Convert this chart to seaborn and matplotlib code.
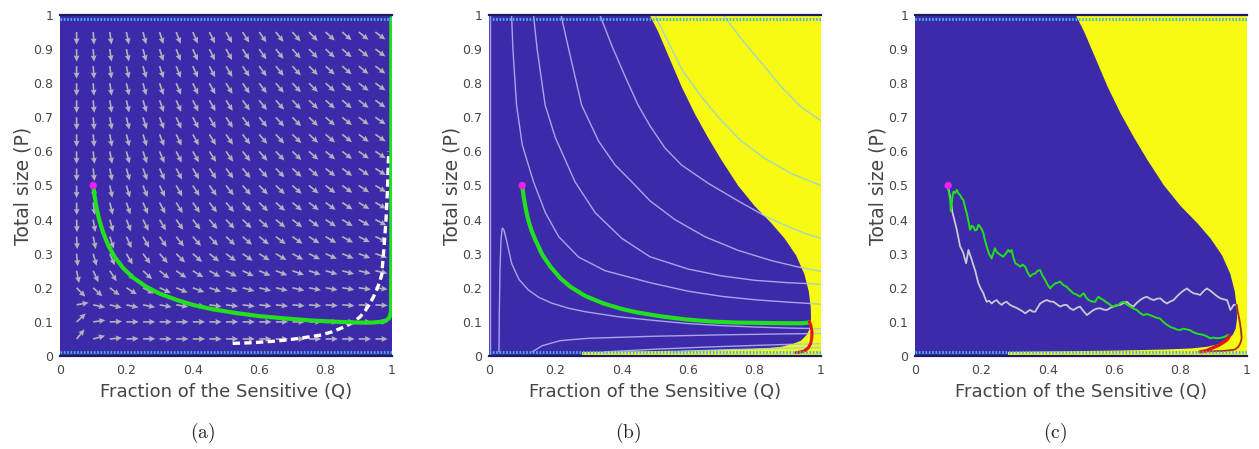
import numpy as np
import pandas as pd
import matplotlib
matplotlib.use("Agg")
import matplotlib.pyplot as plt
from matplotlib.patches import Polygon
import seaborn as sns

sns.set_theme(style="white")
plt.rcParams["font.family"] = ["DejaVu Sans"]
plt.rcParams["mathtext.fontset"] = "cm"

# ---------------------------------------------------------------- colours
BLUE = "#3d2aa8"
YELLOW = "#f8fa12"
GREEN = "#22e01e"
MAGENTA = "#f01ef0"
RED = "#e3160c"
BROWN = "#a8300f"
ARROW = "#b2b0bd"
LAVENDER = "#a7a4ee"
TEAL = "#a2d6c4"
DOTS = "#44b2f2"
NAVY = "#1d1a66"
TEXT = "#454545"

# ------------------------------------------- (a) direction field, degrees
Q_GRID = [0.05, 0.10, 0.15, 0.20, 0.25, 0.30, 0.35, 0.40, 0.45, 0.50,
          0.55, 0.60, 0.65, 0.70, 0.75, 0.80, 0.85, 0.90, 0.95]
P_GRID = [0.95, 0.90, 0.85, 0.80, 0.75, 0.70, 0.65, 0.60, 0.55, 0.50,
          0.45, 0.40, 0.35, 0.30, 0.25, 0.20, 0.15, 0.10, 0.05]
FIELD_ANGLE = [
    [-90, -86, -82, -78, -75, -72, -69, -66, -63, -60, -57, -54, -51, -48, -45, -42, -40, -38, -36],
    [-90, -86, -82, -78, -75, -72, -69, -66, -63, -60, -57, -54, -51, -48, -45, -42, -40, -38, -36],
    [-90, -86, -82, -78, -74, -71, -68, -65, -62, -59, -56, -53, -50, -47, -44, -42, -40, -38, -36],
    [-90, -86, -81, -77, -74, -71, -67, -64, -61, -58, -55, -52, -49, -46, -44, -41, -39, -37, -35],
    [-90, -85, -81, -77, -73, -70, -66, -63, -60, -57, -54, -51, -48, -46, -43, -41, -39, -37, -35],
    [-90, -85, -80, -76, -72, -69, -65, -62, -59, -56, -53, -50, -47, -45, -43, -40, -38, -36, -34],
    [-90, -85, -80, -76, -72, -68, -64, -61, -58, -55, -52, -49, -47, -44, -42, -40, -38, -36, -34],
    [-90, -84, -79, -75, -71, -67, -63, -60, -57, -54, -51, -48, -46, -43, -41, -39, -37, -35, -33],
    [-90, -84, -79, -74, -70, -66, -62, -59, -56, -53, -50, -47, -45, -42, -40, -38, -36, -34, -32],
    [-90, -83, -78, -73, -68, -64, -60, -57, -54, -51, -48, -45, -43, -41, -39, -37, -35, -33, -31],
    [-89, -82, -76, -71, -66, -62, -58, -55, -52, -49, -46, -44, -41, -39, -37, -35, -33, -31, -29],
    [-88, -80, -74, -68, -63, -59, -55, -52, -49, -46, -43, -41, -39, -37, -35, -33, -31, -29, -27],
    [-87, -78, -71, -65, -60, -55, -51, -48, -45, -42, -40, -38, -36, -34, -32, -30, -28, -26, -24],
    [-85, -74, -66, -59, -53, -48, -44, -41, -38, -36, -34, -32, -30, -28, -26, -24, -22, -20, -18],
    [-78, -65, -56, -48, -42, -38, -34, -31, -29, -27, -25, -23, -21, -19, -18, -16, -15, -13, -12],
    [-45, -42, -36, -31, -27, -24, -22, -20, -18, -16, -15, -14, -13, -12, -11, -10, -9, -8, -7],
    [10, -12, -13, -12, -11, -10, -9, -8, -8, -7, -7, -6, -6, -5, -5, -4, -4, -3, -3],
    [42, 8, 2, 0, 0, 0, 0, 0, 0, 0, 0, 0, 0, 0, 0, 0, 0, 0, 0],
    [50, 15, 5, 2, 1, 0, 0, 0, 0, 0, 0, 0, 0, 0, 0, 0, 0, 0, 0],
]

# ------------------------------------------------ (a) trajectories
A_TRAJ_Q = [0.100, 0.104, 0.110, 0.118, 0.130, 0.145, 0.165, 0.190, 0.220, 0.260,
            0.300, 0.350, 0.400, 0.460, 0.530, 0.600, 0.680, 0.760, 0.840, 0.900,
            0.940, 0.965, 0.982, 0.992, 0.997, 0.998, 0.998]
A_TRAJ_P = [0.500, 0.470, 0.435, 0.400, 0.362, 0.325, 0.290, 0.258, 0.230, 0.203,
            0.183, 0.165, 0.150, 0.137, 0.126, 0.117, 0.110, 0.104, 0.100, 0.098,
            0.098, 0.100, 0.104, 0.112, 0.130, 0.300, 0.990]
A_DASH_Q = [0.520, 0.580, 0.640, 0.683, 0.730, 0.783, 0.820, 0.858, 0.885, 0.904,
            0.920, 0.934, 0.945, 0.954, 0.962, 0.969, 0.976, 0.982, 0.986, 0.990]
A_DASH_P = [0.037, 0.039, 0.043, 0.047, 0.053, 0.061, 0.071, 0.086, 0.100, 0.115,
            0.134, 0.155, 0.175, 0.194, 0.215, 0.238, 0.320, 0.400, 0.480, 0.600]

START_Q, START_P = [0.10], [0.50]

# ------------------------------------------------ (b) trajectories
B_TRAJ_Q = [0.100, 0.104, 0.110, 0.118, 0.128, 0.140, 0.160, 0.185, 0.215, 0.245,
            0.290, 0.345, 0.400, 0.445, 0.520, 0.595, 0.670, 0.746, 0.820, 0.897,
            0.940, 0.965]
B_TRAJ_P = [0.500, 0.470, 0.435, 0.400, 0.368, 0.340, 0.298, 0.262, 0.228, 0.203,
            0.176, 0.154, 0.138, 0.128, 0.116, 0.107, 0.101, 0.098, 0.097, 0.096,
            0.096, 0.098]
B_RED_Q = [0.965, 0.970, 0.973, 0.972, 0.969, 0.962, 0.950, 0.935, 0.925]
B_RED_P = [0.100, 0.088, 0.070, 0.052, 0.037, 0.024, 0.015, 0.011, 0.010]

# level curves of panel (b)
LEVEL_CURVES = [
    ([0.706, 0.760, 0.820, 0.880, 0.940, 1.000],
     [1.000, 0.930, 0.860, 0.790, 0.730, 0.690]),
    ([0.500, 0.540, 0.585, 0.640, 0.700, 0.760, 0.830, 0.910, 1.000],
     [1.000, 0.920, 0.834, 0.760, 0.690, 0.630, 0.580, 0.535, 0.500]),
    ([0.334, 0.370, 0.410, 0.449, 0.485, 0.530, 0.580, 0.661, 0.750, 0.836, 0.900, 0.950, 1.000],
     [1.000, 0.910, 0.820, 0.736, 0.675, 0.610, 0.560, 0.506, 0.455, 0.408, 0.380, 0.360, 0.345]),
    ([0.217, 0.240, 0.279, 0.330, 0.380, 0.430, 0.485, 0.560, 0.650, 0.750, 0.850, 0.927, 1.000],
     [1.000, 0.900, 0.736, 0.630, 0.560, 0.511, 0.455, 0.400, 0.350, 0.310, 0.280, 0.262, 0.248]),
    ([0.134, 0.145, 0.169, 0.200, 0.259, 0.320, 0.400, 0.485, 0.600, 0.700, 0.800, 0.900, 0.967, 1.000],
     [1.000, 0.900, 0.736, 0.640, 0.511, 0.420, 0.345, 0.291, 0.255, 0.235, 0.222, 0.215, 0.212, 0.210]),
    ([0.068, 0.072, 0.083, 0.100, 0.134, 0.170, 0.210, 0.270, 0.350, 0.485, 0.600, 0.700, 0.800, 0.900, 1.000],
     [1.000, 0.900, 0.736, 0.620, 0.511, 0.420, 0.350, 0.290, 0.250, 0.215, 0.190, 0.175, 0.165, 0.158, 0.152]),
    ([0.030, 0.031, 0.033, 0.036, 0.040, 0.045, 0.055, 0.068, 0.090, 0.118, 0.150, 0.189,
      0.240, 0.289, 0.390, 0.500, 0.600, 0.700, 0.800, 0.900, 1.000],
     [0.012, 0.120, 0.250, 0.340, 0.375, 0.370, 0.330, 0.272, 0.225, 0.194, 0.172, 0.155,
      0.140, 0.130, 0.115, 0.104, 0.095, 0.089, 0.085, 0.082, 0.080]),
    ([0.004, 0.004], [0.000, 1.000]),
    ([0.130, 0.160, 0.214, 0.300, 0.500, 0.700, 0.900, 1.000],
     [0.012, 0.030, 0.045, 0.052, 0.058, 0.062, 0.065, 0.066]),
    ([0.350, 0.500, 0.650, 0.800, 0.900, 1.000],
     [0.012, 0.020, 0.026, 0.031, 0.034, 0.036]),
    ([0.550, 0.700, 0.850, 1.000],
     [0.012, 0.018, 0.022, 0.025]),
]

# region boundary shared by panels (b) and (c)
BND_Q = [0.484, 0.510, 0.545, 0.580, 0.620, 0.660, 0.700, 0.750, 0.800, 0.850,
         0.890, 0.925, 0.950, 0.963, 0.969, 0.970, 0.966, 0.957, 0.940, 0.915,
         0.880, 0.830, 0.750, 0.620, 0.450, 0.280, 0.280, 1.000, 1.000]
BND_P = [1.000, 0.950, 0.870, 0.790, 0.710, 0.640, 0.575, 0.500, 0.440, 0.390,
         0.345, 0.295, 0.240, 0.190, 0.145, 0.110, 0.080, 0.062, 0.045, 0.035,
         0.027, 0.022, 0.019, 0.016, 0.014, 0.012, 0.000, 0.000, 1.000]

# ------------------------------------------------ (c) sample paths
C_GREEN_Q = [0.098, 0.103, 0.106, 0.108, 0.110, 0.113, 0.116, 0.121, 0.126, 0.131,
             0.136, 0.141, 0.146, 0.151, 0.156, 0.161, 0.166, 0.171, 0.176, 0.181,
             0.186, 0.191, 0.196, 0.201, 0.206, 0.211, 0.216, 0.223, 0.231, 0.236,
             0.241, 0.246, 0.251, 0.258, 0.266, 0.273, 0.281, 0.286, 0.291, 0.296,
             0.302, 0.309, 0.317, 0.324, 0.332, 0.339, 0.347, 0.354, 0.362, 0.370,
             0.377, 0.384, 0.392, 0.400, 0.407, 0.414, 0.422, 0.430, 0.437, 0.447,
             0.457, 0.467, 0.477, 0.487, 0.497, 0.503, 0.508, 0.515, 0.523, 0.533,
             0.543, 0.548, 0.553, 0.560, 0.568, 0.575, 0.583, 0.590, 0.598, 0.605,
             0.613, 0.620, 0.628, 0.638, 0.648, 0.658, 0.668, 0.678, 0.688, 0.698,
             0.708, 0.718, 0.728, 0.738, 0.748, 0.758, 0.768, 0.778, 0.788, 0.798,
             0.808, 0.818, 0.828, 0.838, 0.848, 0.858, 0.868, 0.878, 0.889, 0.899,
             0.909, 0.919, 0.929, 0.936, 0.944]
C_GREEN_P = [0.501, 0.475, 0.457, 0.425, 0.440, 0.468, 0.482, 0.478, 0.487, 0.476,
             0.472, 0.462, 0.457, 0.435, 0.418, 0.395, 0.370, 0.382, 0.379, 0.368,
             0.370, 0.385, 0.379, 0.372, 0.360, 0.338, 0.321, 0.300, 0.286, 0.302,
             0.316, 0.305, 0.301, 0.296, 0.291, 0.300, 0.311, 0.305, 0.311, 0.290,
             0.272, 0.268, 0.262, 0.268, 0.262, 0.245, 0.233, 0.240, 0.242, 0.250,
             0.252, 0.236, 0.223, 0.208, 0.198, 0.206, 0.213, 0.215, 0.218, 0.208,
             0.203, 0.193, 0.184, 0.180, 0.174, 0.180, 0.184, 0.172, 0.164, 0.160,
             0.159, 0.168, 0.174, 0.168, 0.164, 0.158, 0.154, 0.148, 0.145, 0.149,
             0.150, 0.156, 0.159, 0.151, 0.145, 0.139, 0.135, 0.126, 0.120, 0.123,
             0.120, 0.116, 0.112, 0.110, 0.100, 0.092, 0.086, 0.082, 0.078, 0.076,
             0.080, 0.078, 0.076, 0.070, 0.066, 0.064, 0.062, 0.058, 0.052, 0.054,
             0.052, 0.053, 0.055, 0.058, 0.062]
C_GRAY_Q = [0.098, 0.102, 0.106, 0.110, 0.113, 0.116, 0.121, 0.126, 0.131, 0.136,
            0.141, 0.146, 0.150, 0.154, 0.158, 0.161, 0.166, 0.171, 0.176, 0.181,
            0.186, 0.191, 0.198, 0.206, 0.211, 0.216, 0.223, 0.231, 0.238, 0.246,
            0.253, 0.261, 0.268, 0.276, 0.286, 0.296, 0.306, 0.317, 0.324, 0.332,
            0.340, 0.347, 0.355, 0.362, 0.370, 0.377, 0.387, 0.397, 0.407, 0.417,
            0.427, 0.437, 0.447, 0.457, 0.467, 0.477, 0.487, 0.497, 0.508, 0.518,
            0.528, 0.538, 0.548, 0.558, 0.568, 0.578, 0.588, 0.598, 0.608, 0.618,
            0.628, 0.638, 0.648, 0.658, 0.668, 0.678, 0.688, 0.698, 0.708, 0.719,
            0.729, 0.739, 0.749, 0.759, 0.769, 0.779, 0.789, 0.799, 0.809, 0.819,
            0.829, 0.839, 0.849, 0.859, 0.869, 0.879, 0.889, 0.899, 0.909, 0.920,
            0.930, 0.940, 0.945, 0.950, 0.955, 0.960, 0.964]
C_GRAY_P = [0.501, 0.485, 0.467, 0.440, 0.420, 0.409, 0.390, 0.370, 0.345, 0.321,
            0.312, 0.301, 0.285, 0.272, 0.295, 0.311, 0.296, 0.282, 0.266, 0.252,
            0.232, 0.213, 0.198, 0.184, 0.170, 0.159, 0.162, 0.154, 0.160, 0.164,
            0.156, 0.150, 0.156, 0.159, 0.150, 0.145, 0.141, 0.135, 0.131, 0.125,
            0.131, 0.135, 0.130, 0.130, 0.143, 0.154, 0.160, 0.164, 0.160, 0.159,
            0.152, 0.145, 0.149, 0.150, 0.140, 0.135, 0.141, 0.145, 0.131, 0.120,
            0.128, 0.135, 0.139, 0.140, 0.136, 0.135, 0.141, 0.145, 0.148, 0.150,
            0.155, 0.159, 0.150, 0.145, 0.156, 0.164, 0.170, 0.174, 0.168, 0.164,
            0.168, 0.169, 0.160, 0.154, 0.160, 0.164, 0.175, 0.184, 0.192, 0.198,
            0.190, 0.184, 0.182, 0.179, 0.190, 0.198, 0.192, 0.184, 0.176, 0.169,
            0.166, 0.164, 0.150, 0.135, 0.142, 0.150, 0.150]
C_RED_Q = [0.858, 0.870, 0.879, 0.890, 0.904, 0.914, 0.924, 0.932, 0.939, 0.944, 0.947]
C_RED_P = [0.012, 0.014, 0.016, 0.021, 0.027, 0.031, 0.037, 0.042, 0.047, 0.053, 0.059]
C_BROWN_Q = [0.969, 0.972, 0.976, 0.979, 0.982, 0.984, 0.980, 0.974, 0.965, 0.959,
             0.930, 0.900, 0.858]
C_BROWN_P = [0.150, 0.130, 0.112, 0.096, 0.075, 0.052, 0.038, 0.027, 0.020, 0.018,
             0.015, 0.014, 0.013]

X_TICKS = [0, 0.2, 0.4, 0.6, 0.8, 1]
X_TICK_LABELS = ["0", "0.2", "0.4", "0.6", "0.8", "1"]
Y_TICKS = [0, 0.1, 0.2, 0.3, 0.4, 0.5, 0.6, 0.7, 0.8, 0.9, 1]
Y_TICK_LABELS = ["0", "0.1", "0.2", "0.3", "0.4", "0.5", "0.6", "0.7", "0.8", "0.9", "1"]
X_LABEL = "Fraction of the Sensitive (Q)"
Y_LABEL = "Total size (P)"
CAPTIONS = ["(a)", "(b)", "(c)"]

# ---------------------------------------------------------------- figure
fig = plt.figure(figsize=(12.59, 4.49), dpi=100)
lefts = [60 / 1259, 489 / 1259, 915 / 1259]
axes = [fig.add_axes([l, 1 - 356 / 449, 332 / 1259, 341 / 449]) for l in lefts]


def frame(ax):
    ax.set_facecolor(BLUE)
    ax.set_xlim(0, 1)
    ax.set_ylim(0, 1)
    ax.set_xticks(X_TICKS)
    ax.set_xticklabels(X_TICK_LABELS)
    ax.set_yticks(Y_TICKS)
    ax.set_yticklabels(Y_TICK_LABELS)
    ax.tick_params(length=0, labelsize=9, colors=TEXT)
    ax.tick_params(axis="x", pad=6)
    ax.tick_params(axis="y", pad=5)
    for side in ("left", "right"):
        ax.spines[side].set_visible(False)
    for side in ("top", "bottom"):
        ax.spines[side].set_color(NAVY)
        ax.spines[side].set_linewidth(1.6)
    for yv in (0.988, 0.012):
        ax.plot([0, 1], [yv, yv], color=DOTS, lw=2.0, linestyle=(0, (0.6, 0.6)),
                zorder=8, solid_capstyle="butt")


def path(ax, q, p, color, lw, zorder, **kw):
    df = pd.DataFrame({"Q": q, "P": p})
    sns.lineplot(data=df, x="Q", y="P", sort=False, estimator=None, ax=ax,
                 color=color, lw=lw, zorder=zorder, **kw)


def start_dot(ax):
    sns.scatterplot(x=START_Q, y=START_P, ax=ax, color=MAGENTA, s=28,
                    edgecolor="none", zorder=10)


# (a) direction field and trajectories
ax = axes[0]
frame(ax)
QQ, PP = np.meshgrid(Q_GRID, P_GRID)
ang = np.deg2rad(np.array(FIELD_ANGLE, dtype=float))
arrow_len = 0.037
ax.quiver(QQ, PP, arrow_len * np.cos(ang), arrow_len * np.sin(ang),
          angles="xy", scale_units="xy", scale=1, color=ARROW,
          width=0.005, headwidth=3.6, headlength=3.8, headaxislength=3.4, zorder=3)
path(ax, A_DASH_Q, A_DASH_P, "white", 2.4, 5, dashes=False)
ax.lines[-1].set_dashes((2.2, 1.3))
path(ax, A_TRAJ_Q, A_TRAJ_P, GREEN, 3.0, 6)
start_dot(ax)

# (b) level curves over the two regions
ax = axes[1]
frame(ax)
region = Polygon(np.column_stack([BND_Q, BND_P]), closed=True,
                 facecolor=YELLOW, edgecolor="none", zorder=2)
ax.add_patch(region)
for q, p in LEVEL_CURVES:
    ax.plot(q, p, color=LAVENDER, lw=1.0, zorder=1.5)
    ln, = ax.plot(q, p, color=TEAL, lw=1.0, zorder=2.5)
    ln.set_clip_path(region)
path(ax, B_TRAJ_Q, B_TRAJ_P, GREEN, 3.0, 6)
path(ax, B_RED_Q, B_RED_P, RED, 2.2, 6)
start_dot(ax)

# (c) stochastic sample paths
ax = axes[2]
frame(ax)
ax.add_patch(Polygon(np.column_stack([BND_Q, BND_P]), closed=True,
                     facecolor=YELLOW, edgecolor="none", zorder=2))
path(ax, C_GRAY_Q, C_GRAY_P, "#c9c9d2", 1.3, 5)
path(ax, C_GREEN_Q, C_GREEN_P, GREEN, 1.4, 6)
path(ax, C_BROWN_Q, C_BROWN_P, BROWN, 1.3, 6)
path(ax, C_RED_Q, C_RED_P, RED, 2.4, 6)
start_dot(ax)

for ax in axes:
    ax.set_xlabel(X_LABEL, fontsize=13, color=TEXT)
    ax.set_ylabel(Y_LABEL, fontsize=13.5, color=TEXT)
    ax.xaxis.set_label_coords(0.5, -0.08)
    ax.yaxis.set_label_coords(-0.082, 0.5)
    leg = ax.get_legend()
    if leg is not None:
        leg.remove()

for x, cap in zip([203 / 1259, 628 / 1259, 1055 / 1259], CAPTIONS):
    fig.text(x, 1 - 433 / 449, r"$\mathrm{" + cap + "}$", ha="center", va="center",
             fontsize=14, color="#222222")

fig.savefig("out.png", dpi=100)
